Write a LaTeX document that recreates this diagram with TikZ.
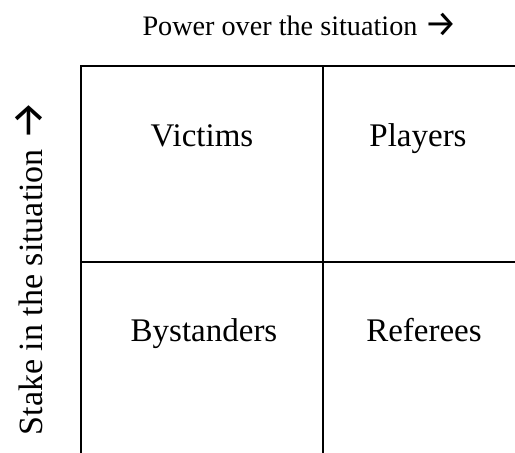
\documentclass[tikz,border=0pt]{standalone}
\usepackage{fontspec}
\setmainfont{Liberation Serif}
\newfontfamily\arrowfont{Fira Sans}
\usepackage{graphicx}
\usepackage{xcolor}
\definecolor{GridInk}{HTML}{000000}
\usepackage{tikz}
\usetikzlibrary{positioning,calc}
\newcommand{\rarr}{\raisebox{-0.05em}{\scalebox{1.3}{\arrowfont →}}}
\tikzset{
  gridline/.style={draw=GridInk,line width=2pt,line cap=rect},
  quadlabel/.style={font=\fontsize{33}{38}\selectfont,inner sep=0pt,anchor=base},
  axislabel/.style={font=\fontsize{28.2}{33}\selectfont,inner sep=0pt,anchor=base}
}

\begin{document}
\begin{tikzpicture}[x=1pt,y=-1pt]
    \useasboundingbox (0,0) rectangle (515,453);
    % frame of the four quadrants
    \coordinate (topL) at (81,66);
    \coordinate (topM) at (323,66);
    \coordinate (topR) at (515,66);
    \coordinate (midL) at (81,262);
    \coordinate (midR) at (515,262);
    \coordinate (botL) at (81,453);
    \coordinate (botM) at (323,453);
    \draw[gridline] (topR) -- (topL) -- (botL);
    \draw[gridline] (topM) -- (botM);
    \draw[gridline] (midL) -- (midR);
    % quadrant names
    \node[quadlabel] (victims)    at (202,146) {Victims};
    \node[quadlabel] (players)    at (418,146) {Players};
    \node[quadlabel] (bystanders) at (204,341) {Bystanders};
    \node[quadlabel] (referees)   at (424,341) {Referees};
    % axes
    \node[axislabel] (power) at (300,35) {Power over the situation \rarr};
    \node[axislabel,rotate=90,font=\fontsize{34}{39}\selectfont] (stake) at (42,268)
      {Stake in the situation \rarr};
  \end{tikzpicture}
\end{document}
